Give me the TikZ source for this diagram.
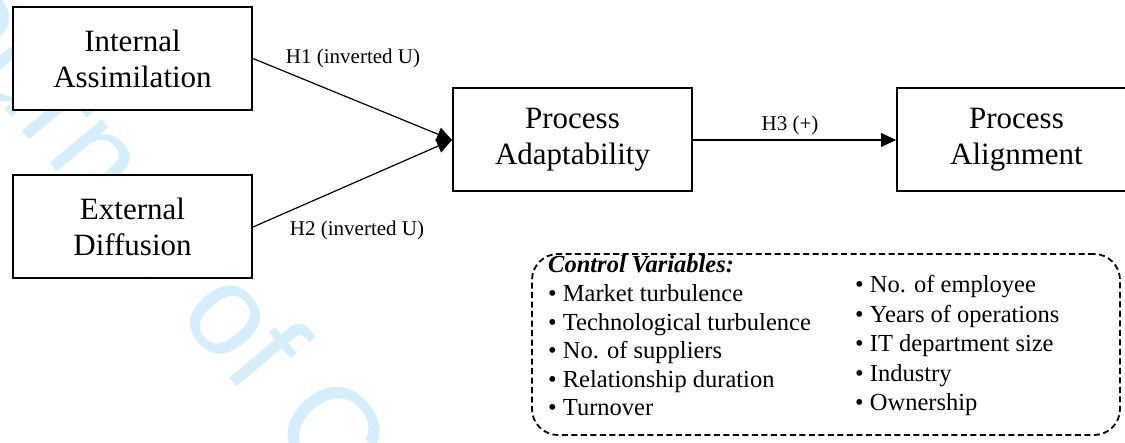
\documentclass[tikz,border=0pt]{standalone}
\usepackage{fontspec}
\setmainfont{Liberation Serif}
\newfontfamily\wmfont{Liberation Sans}
\usetikzlibrary{arrows.meta}
\definecolor{wmcyan}{RGB}{212,239,251}
\tikzset{
  mainbox/.style={draw=black, line width=2pt, fill=white, minimum width=239pt, minimum height=103pt, inner sep=0pt, align=center, font=\fontsize{31}{36}\selectfont},
  arr/.style={line width=1.2pt, -{Triangle[length=15pt,width=14pt]}},
  lbl/.style={inner sep=0pt, font=\fontsize{21}{24}\selectfont},
  ctrlbox/.style={draw=black, line width=1.8pt, dash pattern=on 6pt off 3.5pt, rounded corners=26pt, fill=white, inner sep=0pt},
  listtext/.style={inner sep=0pt, align=left, anchor=base west}
}
\begin{document}
\begin{tikzpicture}[x=1pt, y=-1pt]
\useasboundingbox (0,0) rectangle (1125,443);
% watermark
\node[inner sep=0pt, anchor=base west, rotate=-50, text=wmcyan, font=\wmfont\fontsize{128}{128}\selectfont] (wm) at (-116,-34) {Journal of Computer};
% main boxes
\node[mainbox] (IA) at (132.5,58.5) {Internal\\Assimilation};
\node[mainbox] (ED) at (132.5,227) {External\\Diffusion};
\node[mainbox] (PA) at (572.5,140) {Process\\Adaptability};
\node[mainbox] (PAl) at (1016.5,140) {Process\\Alignment};
% connectors
\draw[arr] (IA.east) -- (PA.west);
\draw[arr] (ED.east) -- (PA.west);
\draw[arr] (PA.east) -- (PAl.west);
% labels
\node[lbl] (h1) at (353,58) {H1 (inverted U)};
\node[lbl] (h2) at (357,230) {H2 (inverted U)};
\node[lbl] (h3) at (790,125) {H3 (+)};
% control variables
\node[ctrlbox, minimum width=588pt, minimum height=181pt] (CV) at (826,344.5) {};
\node[listtext, font=\fontsize{24.5}{28.6}\selectfont] (cvl) at (548,416)
  {\textbf{\textit{Control Variables:}}\\
   \textbullet\ Market turbulence\\
   \textbullet\ Technological turbulence\\
   \textbullet\ No. of suppliers\\
   \textbullet\ Relationship duration\\
   \textbullet\ Turnover};
\node[listtext, font=\fontsize{24.5}{29.5}\selectfont] (cvr) at (855,411)
  {\textbullet\ No. of employee\\
   \textbullet\ Years of operations\\
   \textbullet\ IT department size\\
   \textbullet\ Industry\\
   \textbullet\ Ownership};
\end{tikzpicture}
\end{document}
